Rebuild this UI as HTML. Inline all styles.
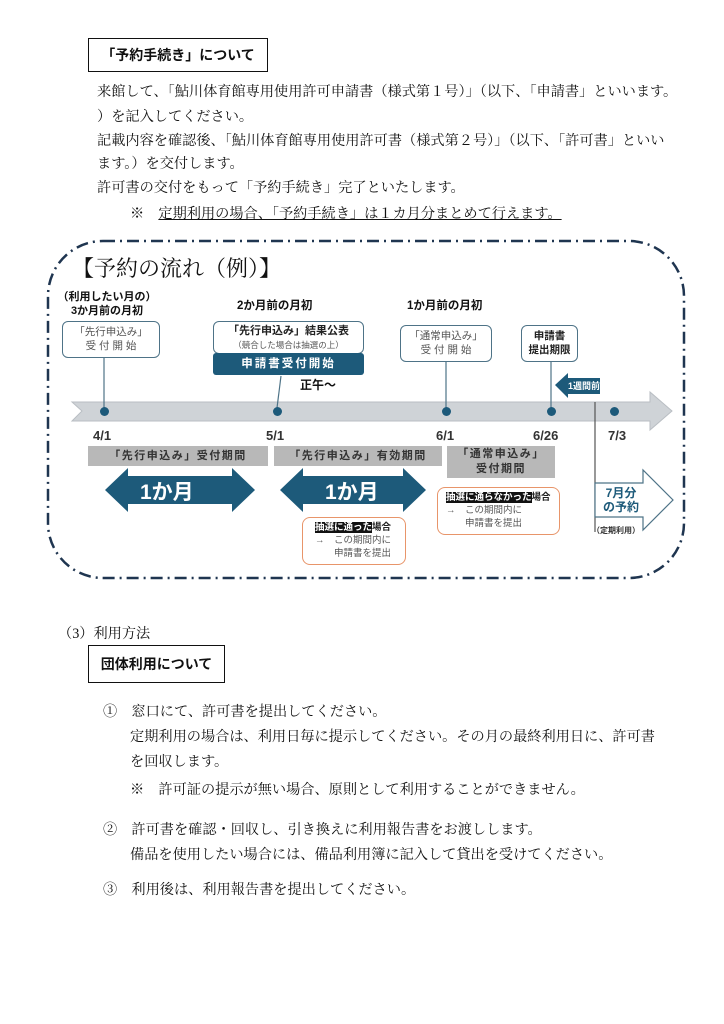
<!DOCTYPE html>
<html><head><meta charset="utf-8"><style>
body{margin:0;width:724px;height:1024px;background:#fff;position:relative;font-family:"Liberation Sans","Noto Sans CJK JP",sans-serif;color:#111;overflow:hidden}
.a{position:absolute;white-space:nowrap}
.t{font-size:14.2px;font-family:"Liberation Serif","Noto Serif CJK SC",serif}
.b{font-weight:bold}
.box{position:absolute;border:1.5px solid #111;box-sizing:border-box;font-weight:bold;font-size:14px;display:flex;align-items:center;justify-content:center}
.tb{position:absolute;border:1.3px solid #4e7387;border-radius:6px;background:#fff;box-sizing:border-box;text-align:center;font-size:10.5px;color:#555;line-height:14px}
.gb{position:absolute;background:#b8b8b8;text-align:center;font-size:11px;font-weight:bold;color:#333;letter-spacing:1.5px}
.ob{position:absolute;border:1.3px solid #e8956a;border-radius:8px;box-sizing:border-box;font-size:9.5px;color:#555;line-height:13px}
.hl{background:#111;color:#fff;font-weight:bold}
.d{position:absolute;width:9px;height:9px;border-radius:50%;background:#1d5a7a}
.dt{position:absolute;font-size:13px;font-weight:bold;color:#333}
</style></head><body>
<div class="box" style="left:88px;top:38px;width:180px;height:34px">「予約手続き」について</div>
<div class="a t" style="left:97px;top:81px">来館して、「鮎川体育館専用使用許可申請書（様式第１号）」（以下、「申請書」といいます。</div>
<div class="a t" style="left:97px;top:106px">）を記入してください。</div>
<div class="a t" style="left:97px;top:130px">記載内容を確認後、「鮎川体育館専用使用許可書（様式第２号）」（以下、「許可書」といい</div>
<div class="a t" style="left:97px;top:153px">ます。）を交付します。</div>
<div class="a t" style="left:97px;top:177px">許可書の交付をもって「予約手続き」完了といたします。</div>
<div class="a t" style="left:130px;top:203px">※　<span style="text-decoration:underline">定期利用の場合、「予約手続き」は１カ月分まとめて行えます。</span></div>

<svg class="a" style="left:0;top:0" width="724" height="600">
<rect x="48" y="241" width="636" height="337" rx="55" fill="none" stroke="#1f3550" stroke-width="2.5" stroke-dasharray="12,5,2,5"/>
<polygon points="72,402 650,402 650,392 672,411 650,430 650,421 72,421 82,411" fill="#cfd3d7" stroke="#b9bec3"/>
<line x1="104" y1="358" x2="104" y2="408" stroke="#4e7387" stroke-width="1.2"/>
<line x1="281" y1="376" x2="277" y2="408" stroke="#4e7387" stroke-width="1.2"/>
<line x1="446" y1="362" x2="446" y2="408" stroke="#4e7387" stroke-width="1.2"/>
<line x1="551" y1="362" x2="551" y2="408" stroke="#4e7387" stroke-width="1.2"/>
<polygon points="105,490 128,468 128,476 232,476 232,468 255,490 232,512 232,504 128,504 128,512" fill="#1d5a7a"/>
<polygon points="280,490 303,468 303,476 403,476 403,468 426,490 403,512 403,504 303,504 303,512" fill="#1d5a7a"/>
<polygon points="555,385 568,373 568,378 600,378 600,394 568,394 568,398" fill="#1d5a7a"/>
<line x1="595" y1="402" x2="595" y2="532" stroke="#555" stroke-width="1.2"/>
<polygon points="595,483 643,483 643,470 673,500 643,530 643,517 595,517" fill="#fff" stroke="#4e7387" stroke-width="1.2"/>
</svg>
<div class="a" style="left:72px;top:252px;font-size:22px;font-family:'Liberation Serif','Noto Serif CJK SC',serif">【予約の流れ（例）】</div>
<div class="a b" style="left:52px;top:290px;font-size:11px;line-height:14px;text-align:center;width:110px">（利用したい月の）<br>3か月前の月初</div>
<div class="a b" style="left:237px;top:297px;font-size:11.5px">2か月前の月初</div>
<div class="a b" style="left:407px;top:297px;font-size:11.5px">1か月前の月初</div>
<div class="tb" style="left:62px;top:321px;width:98px;height:37px;padding-top:3px">「先行申込み」<br>受 付 開 始</div>
<div class="tb" style="left:213px;top:321px;width:151px;height:33px;color:#222;font-weight:bold;font-size:11px;padding-top:2px">「先行申込み」結果公表<br><span style="font-weight:normal;font-size:8.5px;color:#555">（競合した場合は抽選の上）</span></div>
<div class="a" style="left:213px;top:353px;width:151px;height:22px;background:#1d5a7a;border-radius:3px;color:#fff;font-size:11.5px;font-weight:bold;text-align:center;line-height:22px;letter-spacing:2px">申請書受付開始</div>
<div class="a b" style="left:300px;top:376px;font-size:12px">正午〜</div>
<div class="tb" style="left:400px;top:325px;width:92px;height:37px;padding-top:3px">「通常申込み」<br>受 付 開 始</div>
<div class="tb" style="left:521px;top:325px;width:57px;height:37px;padding-top:3px;color:#222;font-weight:bold">申請書<br>提出期限</div>
<div class="a b" style="left:568px;top:379px;font-size:9px;color:#fff">1週間前</div>
<div class="d" style="left:100px;top:407px"></div><div class="d" style="left:273px;top:407px"></div><div class="d" style="left:442px;top:407px"></div><div class="d" style="left:547px;top:407px"></div><div class="d" style="left:610px;top:407px"></div>
<div class="dt" style="left:93px;top:428px">4/1</div><div class="dt" style="left:266px;top:428px">5/1</div><div class="dt" style="left:436px;top:428px">6/1</div><div class="dt" style="left:533px;top:428px">6/26</div><div class="dt" style="left:608px;top:428px">7/3</div>
<div class="gb" style="left:88px;top:446px;width:180px;height:20px;line-height:20px">「先行申込み」受付期間</div>
<div class="gb" style="left:274px;top:446px;width:168px;height:20px;line-height:20px">「先行申込み」有効期間</div>
<div class="gb" style="left:447px;top:446px;width:108px;height:32px;line-height:15px;padding-top:1px;box-sizing:border-box">「通常申込み」<br>受付期間</div>
<div class="a" style="left:140px;top:476px;font-size:21px;color:#fff;font-weight:bold">1か月</div>
<div class="a" style="left:325px;top:476px;font-size:21px;color:#fff;font-weight:bold">1か月</div>
<div class="ob" style="left:302px;top:517px;width:104px;height:48px;padding:3px 0 0 12px"><span class="hl">抽選に通った</span><b style="color:#222">場合</b><br>→　この期間内に<br>　　申請書を提出</div>
<div class="ob" style="left:437px;top:487px;width:123px;height:48px;padding:3px 0 0 8px"><span class="hl">抽選に通らなかった</span><b style="color:#222">場合</b><br>→　この期間内に<br>　　申請書を提出</div>
<div class="a b" style="left:603px;top:486px;font-size:12px;line-height:14px;color:#1d5a7a;text-align:center">7月分<br>の予約</div>
<div class="a b" style="left:592px;top:525px;font-size:8px;color:#333">（定期利用）</div>

<div class="a t" style="left:58px;top:623px">（3）利用方法</div>
<div class="box" style="left:88px;top:645px;width:137px;height:38px">団体利用について</div>
<div class="a t" style="left:103px;top:701px">①　窓口にて、許可書を提出してください。</div>
<div class="a t" style="left:130px;top:726px">定期利用の場合は、利用日毎に提示してください。その月の最終利用日に、許可書</div>
<div class="a t" style="left:130px;top:751px">を回収します。</div>
<div class="a t" style="left:130px;top:779px">※　許可証の提示が無い場合、原則として利用することができません。</div>
<div class="a t" style="left:103px;top:819px">②　許可書を確認・回収し、引き換えに利用報告書をお渡しします。</div>
<div class="a t" style="left:130px;top:844px">備品を使用したい場合には、備品利用簿に記入して貸出を受けてください。</div>
<div class="a t" style="left:103px;top:879px">③　利用後は、利用報告書を提出してください。</div>
</body></html>
